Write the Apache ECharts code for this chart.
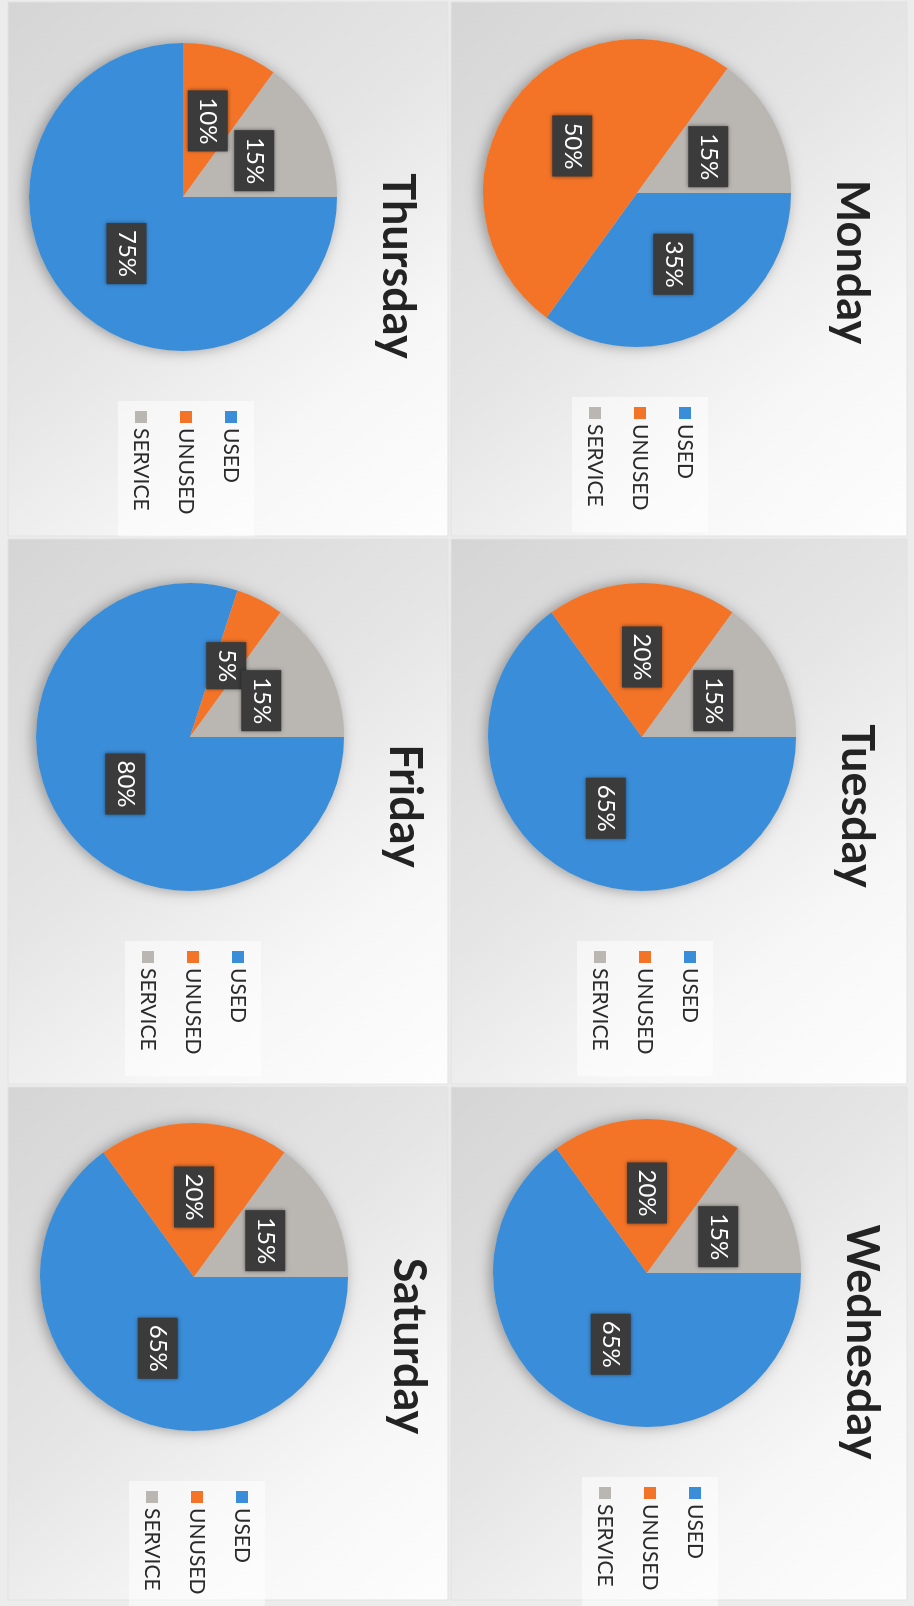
<!DOCTYPE html>
<html>
<head>
<meta charset="utf-8">
<title>Daily usage</title>
<script src="https://cdn.jsdelivr.net/npm/echarts@6/dist/echarts.min.js"></script>
<style>
  html, body {
    margin: 0;
    padding: 0;
    width: 914px;
    height: 1606px;
    overflow: hidden;
    background: #ececec;
  }
  /* the scan is turned a quarter turn, so the chart is drawn flat and rotated */
  #chart {
    position: absolute;
    left: 0;
    top: 0;
    width: 1606px;
    height: 914px;
    transform-origin: 0 0;
    transform: translate(914px, 0) rotate(90deg);
  }
</style>
</head>
<body>
<div id="chart"></div>
<script>
  const days = ['Monday', 'Tuesday', 'Wednesday', 'Thursday', 'Friday', 'Saturday']
  const categories = ['USED', 'UNUSED', 'SERVICE']
  const usedPct = [35, 65, 65, 75, 80, 65]
  const unusedPct = [50, 20, 20, 10, 5, 20]
  const servicePct = [15, 15, 15, 15, 15, 15]

  const colors = ['#3a8dd9', '#f47427', '#bab6b2']
  const FONT = 'Lato, "Open Sans", sans-serif'

  // layout (unrotated frame 1606 x 914)
  const pieCenters = [[193, 277], [737, 272], [1273, 267], [197, 731], [737, 724], [1277, 720]]
  const pieRadius = 154
  const panels = [
    [2, 7, 534, 456], [539, 7, 545, 456], [1087, 7, 513, 456],
    [2, 466, 534, 440], [539, 466, 545, 440], [1087, 466, 513, 440]
  ]

  const chart = echarts.init(document.getElementById('chart'))

  const titles = []
  const legends = []
  const series = []

  days.forEach(function (day, i) {
    const c = pieCenters[i]
    titles.push({
      text: day,
      left: c[0] + 69,
      top: c[1] - 213 - 24,
      textAlign: 'center',
      padding: 0,
      textStyle: {
        fontFamily: FONT,
        fontSize: 45,
        fontWeight: 'bold',
        color: '#232323'
      }
    })
    legends.push({
      data: categories,
      orient: 'vertical',
      left: c[0] + 204,
      top: c[1] - 48 - 11 - 12,
      icon: 'rect',
      itemWidth: 12,
      itemHeight: 12,
      itemGap: 23,
      padding: [12, 22, 12, 10],
      backgroundColor: 'rgba(255,255,255,0.5)',
      selectedMode: false,
      textStyle: {
        fontFamily: FONT,
        fontSize: 21,
        lineHeight: 22,
        color: '#2a2a2a'
      }
    })
    // soft shadow disc under each pie
    series.push({
      type: 'pie',
      silent: true,
      center: c,
      radius: pieRadius,
      z: 1,
      label: { show: false },
      labelLine: { show: false },
      itemStyle: {
        color: '#c8c8c8',
        shadowBlur: 14,
        shadowOffsetY: 3,
        shadowColor: 'rgba(0,0,0,0.35)'
      },
      data: [{ value: 1, name: 'shadow' + i }]
    })
    series.push({
      name: day,
      type: 'pie',
      center: c,
      radius: pieRadius,
      startAngle: 90,
      clockwise: true,
      avoidLabelOverlap: false,
      labelLayout: { hideOverlap: false },
      z: 2,
      itemStyle: { borderWidth: 0 },
      labelLine: { show: false },
      label: {
        show: true,
        position: 'inside',
        formatter: '{c}%',
        fontFamily: FONT,
        fontSize: 24,
        lineHeight: 24,
        color: '#ffffff',
        backgroundColor: '#3b3b3b',
        padding: [8, 7],
        shadowBlur: 4,
        shadowColor: 'rgba(0,0,0,0.45)'
      },
      data: [
        { name: categories[0], value: usedPct[i], itemStyle: { color: colors[0] } },
        { name: categories[1], value: unusedPct[i], itemStyle: { color: colors[1] } },
        { name: categories[2], value: servicePct[i], itemStyle: { color: colors[2] } }
      ]
    })
  })

  const panelGraphics = panels.map(function (p) {
    return {
      type: 'rect',
      silent: true,
      z: -10,
      shape: { x: p[0], y: p[1], width: p[2], height: p[3] },
      style: {
        fill: new echarts.graphic.LinearGradient(0, 1, 1, 0, [
          { offset: 0, color: '#d5d5d5' },
          { offset: 0.45, color: '#e5e5e5' },
          { offset: 0.75, color: '#f7f7f7' },
          { offset: 1, color: '#fdfdfd' }
        ]),
        stroke: '#e2e2e2',
        lineWidth: 1
      }
    }
  })

  chart.setOption({
    animation: false,
    color: colors,
    title: titles,
    legend: legends,
    graphic: panelGraphics,
    series: series
  })
</script>
</body>
</html>
